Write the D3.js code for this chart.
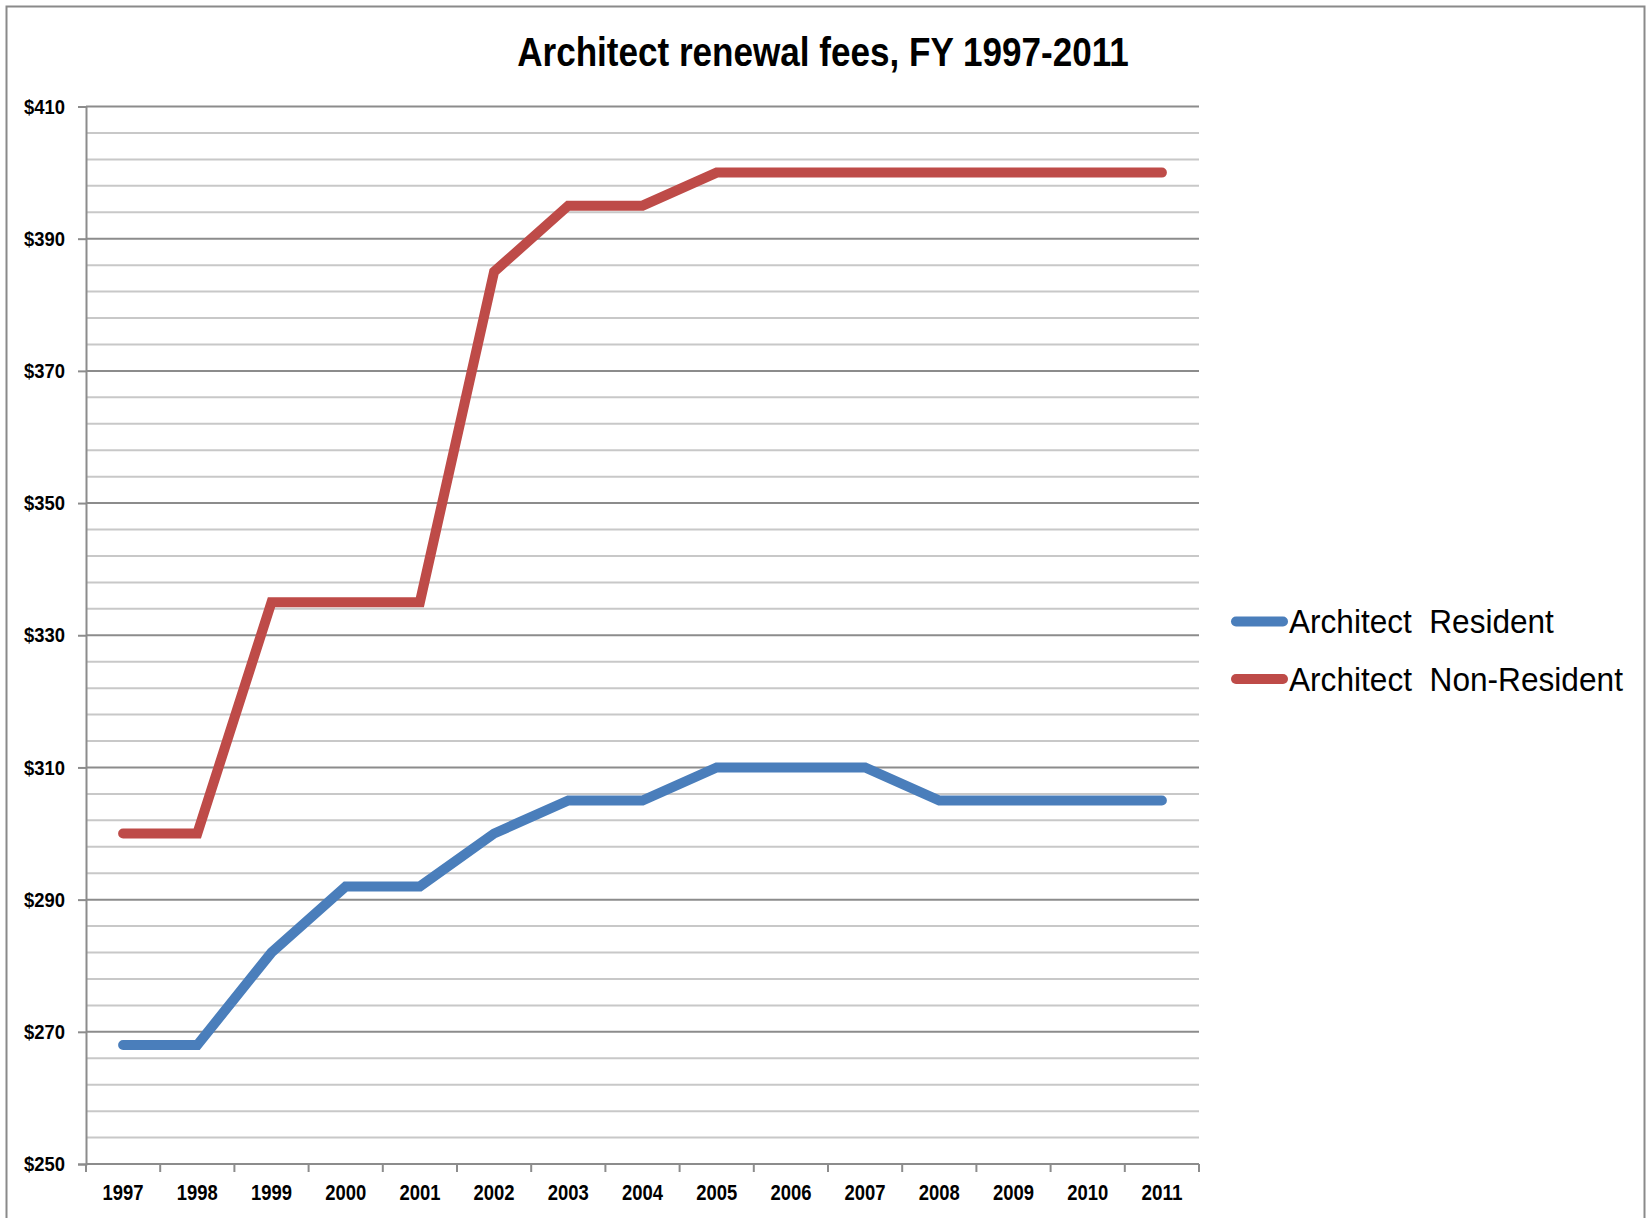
<!DOCTYPE html>
<html>
<head>
<meta charset="utf-8">
<script src="https://cdn.jsdelivr.net/npm/d3@7"></script>
<style>
  html, body { margin: 0; padding: 0; background: #fff; }
  svg { display: block; }
  text { font-family: "Liberation Sans Narrow", "Arial Narrow", "Liberation Sans", Arial, sans-serif; }
</style>
</head>
<body>
<svg id="chart" width="1646" height="1218"></svg>
<script>
const years = ["1997","1998","1999","2000","2001","2002","2003","2004","2005","2006","2007","2008","2009","2010","2011"];
const residentFees = [268, 268, 282, 292, 292, 300, 305, 305, 310, 310, 310, 305, 305, 305, 305];
const nonResidentFees = [300, 300, 335, 335, 335, 385, 395, 395, 400, 400, 400, 400, 400, 400, 400];
const seriesNames = ["Architect  Resident", "Architect  Non-Resident"];
const seriesColors = ["#4a7ebb", "#be4b48"];
const yMajorTicks = [250, 270, 290, 310, 330, 350, 370, 390, 410];
const yMinorTicks = d3.range(250, 411, 4);
const titleText = "Architect renewal fees, FY 1997-2011";

const svg = d3.select("#chart");

// squeeze a text horizontally to a target width (keeps glyph height)
function fitWidth(sel, target) {
  sel.each(function () {
    const node = this;
    const w = node.getComputedTextLength();
    if (!w) return;
    const s = target / w;
    const ax = +node.getAttribute("x") || 0;
    const prev = node.getAttribute("transform") || "";
    node.setAttribute("transform", `${prev} translate(${ax},0) scale(${s},1) translate(${-ax},0)`);
  });
}

// outer frame
svg.append("rect").attr("x", 6.5).attr("y", 6.5).attr("width", 1638).attr("height", 1240)
  .attr("fill", "none").attr("stroke", "#8a8a8a").attr("stroke-width", 2);

const plot = { left: 86, right: 1199, top: 106.5, bottom: 1164 };

const x = d3.scaleBand().domain(years).range([plot.left, plot.right]).padding(0);
const y = d3.scaleLinear().domain([250, 410]).range([plot.bottom, plot.top]);

// minor gridlines
svg.append("g").selectAll("line").data(yMinorTicks.filter(v => !yMajorTicks.includes(v)))
  .join("line")
  .attr("x1", plot.left).attr("x2", plot.right)
  .attr("y1", d => y(d)).attr("y2", d => y(d))
  .attr("stroke", "#c8c8c8").attr("stroke-width", 2);

// major gridlines
svg.append("g").selectAll("line").data(yMajorTicks.filter(v => v !== 250))
  .join("line")
  .attr("x1", plot.left).attr("x2", plot.right)
  .attr("y1", d => y(d)).attr("y2", d => y(d))
  .attr("stroke", "#8c8c8c").attr("stroke-width", 2);

const labelFont = '"Liberation Sans Narrow", "Arial Narrow", "Liberation Sans", Arial, sans-serif';

// y axis
const yAxis = d3.axisLeft(y).tickValues(yMajorTicks).tickSize(8).tickPadding(13)
  .tickFormat(d => "$" + d);
const gy = svg.append("g").attr("transform", `translate(${plot.left},0)`).call(yAxis);
gy.select(".domain").attr("stroke", "#8c8c8c").attr("stroke-width", 2);
gy.selectAll(".tick line").attr("stroke", "#8c8c8c").attr("stroke-width", 2);
gy.selectAll(".tick text").attr("font-size", 21).attr("font-weight", "bold").attr("fill", "#000")
  .style("font-family", labelFont);
// right-anchored: scale around the right edge
gy.selectAll(".tick text").each(function () {
  const w = this.getComputedTextLength();
  const s = 41 / w;
  const ax = +this.getAttribute("x");
  this.setAttribute("transform", `translate(${ax},0) scale(${s},1) translate(${-ax},0)`);
});

// x axis
const xAxis = d3.axisBottom(x).tickSize(0).tickPadding(20);
const gx = svg.append("g").attr("transform", `translate(0,${plot.bottom})`).call(xAxis);
gx.select(".domain").remove();
gx.selectAll(".tick text").attr("font-size", 22).attr("font-weight", "bold").attr("fill", "#000")
  .style("font-family", labelFont);
gx.selectAll(".tick text").each(function () {
  const w = this.getComputedTextLength();
  const s = 41 / w;
  this.setAttribute("transform", `scale(${s},1)`);
});
svg.append("line").attr("x1", plot.left).attr("x2", plot.right)
  .attr("y1", plot.bottom).attr("y2", plot.bottom)
  .attr("stroke", "#8c8c8c").attr("stroke-width", 2);
// category boundary ticks
const boundaries = years.map(yr => x(yr)).concat([x(years[years.length - 1]) + x.bandwidth()]);
svg.append("g").selectAll("line").data(boundaries).join("line")
  .attr("x1", d => d).attr("x2", d => d)
  .attr("y1", plot.bottom).attr("y2", plot.bottom + 8)
  .attr("stroke", "#8c8c8c").attr("stroke-width", 2);

// lines
const line = d3.line()
  .x((d, i) => x(years[i]) + x.bandwidth() / 2)
  .y(d => y(d));
[residentFees, nonResidentFees].forEach((vals, k) => {
  svg.append("path").datum(vals)
    .attr("d", line)
    .attr("fill", "none")
    .attr("stroke", seriesColors[k])
    .attr("stroke-width", 10)
    .attr("stroke-linecap", "round")
    .attr("stroke-linejoin", "miter");
});

// title
const title = svg.append("text").attr("x", 823).attr("y", 66)
  .attr("text-anchor", "middle")
  .attr("font-size", 40).attr("font-weight", "bold").attr("fill", "#000")
  .text(titleText);
fitWidth(title, 612);

// legend
const legendY = [621.5, 679];
const legendW = [265, 334];
seriesNames.forEach((name, k) => {
  svg.append("line")
    .attr("x1", 1236).attr("x2", 1283)
    .attr("y1", legendY[k]).attr("y2", legendY[k])
    .attr("stroke", seriesColors[k]).attr("stroke-width", 10)
    .attr("stroke-linecap", "round");
  const t = svg.append("text")
    .attr("x", 1289).attr("y", legendY[k] + 12)
    .attr("font-size", 34).attr("fill", "#000")
    .style("white-space", "pre")
    .text(name);
  fitWidth(t, legendW[k]);
});
</script>
</body>
</html>
